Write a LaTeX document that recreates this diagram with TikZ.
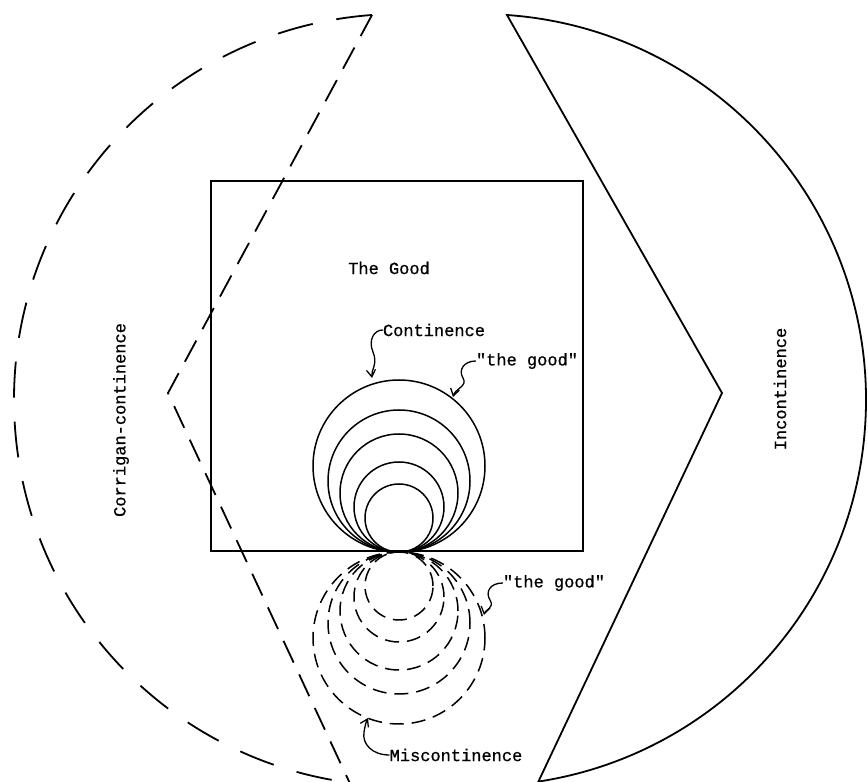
\documentclass[tikz,border=0pt]{standalone}
\usepackage{fontspec}
\setmonofont[FakeBold=0.8]{Liberation Mono}
\usetikzlibrary{arrows.meta,calc}
\tikzset{
  ln/.style={line width=1.8pt, line join=miter},
  bigdash/.style={ln, dash pattern=on 36pt off 24pt},
  vdash/.style={ln, dash pattern=on 24pt off 13pt},
  cl/.style={line width=1.5pt},
  cdash/.style={line width=1.5pt, dash pattern=on 14pt off 8pt},
  lbl/.style={font=\ttfamily\fontsize{17}{17}\selectfont, inner sep=0pt},
  sq/.style={line width=1.3pt, -{Straight Barb[length=7pt,width=9pt]}}
}
\begin{document}
\begin{tikzpicture}[x=1pt,y=1pt]
\useasboundingbox (0,0) rectangle (868,782);
\clip (0,0) rectangle (868,782);
% corner coordinates
\coordinate (dtop) at (372,767);
\coordinate (dnotch) at (168,389);
\coordinate (dbot) at (349.6,-0.7);
\coordinate (stop) at (507,767);
\coordinate (snotch) at (722,389);
\coordinate (sbot) at (538,0.4);
\coordinate (tp) at (399,230);
% dashed left shape
\draw[bigdash] (dtop) arc[start angle=94.16, end angle=262.5, radius=386];
\draw[vdash] (dtop) -- (dnotch) -- (dbot);
% solid right shape
\draw[ln] (stop) arc[start angle=85.99, end angle=-81.3, radius=386] -- (snotch) -- cycle;
% square
\node[draw, line width=1.8pt, minimum width=372pt, minimum height=370pt, inner sep=0pt, anchor=south west] (sqr) at (210,230) {};
% solid circles
\foreach \r in {86,71,59,45,34} {
  \draw[cl] ($(tp)+(0,\r)$) circle[radius=\r];
}
% dashed circles
\foreach \r in {86,71,59,45,34} {
  \draw[cdash] ($(tp)+(0,-\r)$) circle[radius=\r];
}
% labels
\node[lbl] (good) at (389,514) {The Good};
\node[lbl] (cont) at (434,452) {Continence};
\node[lbl] (tg1) at (527,421) {"the good"};
\node[lbl] (tg2) at (554,199) {"the good"};
\node[lbl] (misc) at (456,27) {Miscontinence};
\node[lbl, rotate=90] (corr) at (121,362) {Corrigan-continence};
\node[lbl, rotate=90] (inc) at (780,393) {Incontinence};
% squiggle arrows
\draw[sq] (cont.west) .. controls (374,452) and (368,442) .. (373,430) .. controls (378,418) and (371,412) .. (372,404);
\draw[sq] (tg1.west) .. controls (464,421) and (458,412) .. (463,404) .. controls (468,396) and (455,393) .. (453,385);
\draw[sq] (tg2.west) .. controls (490,199) and (485,190) .. (490,182) .. controls (495,174) and (485,172) .. (484,167);
\draw[sq] (misc.west) .. controls (372,27) and (362,38) .. (364,50) .. controls (365,56) and (366,60) .. (368,64);
\end{tikzpicture}
\end{document}
